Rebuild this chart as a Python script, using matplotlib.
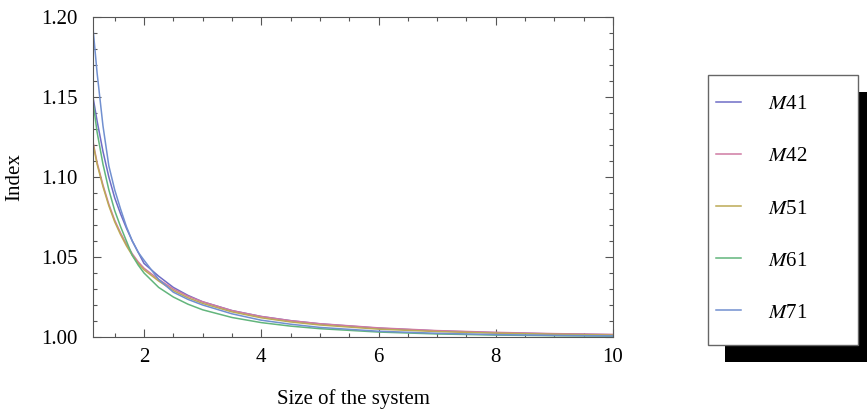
import numpy as np
import matplotlib as mpl
mpl.use("Agg")
import matplotlib.pyplot as plt
from matplotlib.patches import Rectangle
from matplotlib.ticker import MultipleLocator

# data
x = [1.13, 1.2, 1.3, 1.4, 1.5, 1.6, 1.7, 1.8, 1.9, 2.0, 2.25, 2.5, 2.75,
     3.0, 3.5, 4.0, 4.5, 5.0, 6.0, 7.0, 8.0, 9.0, 10.0]

m41 = [1.150, 1.135, 1.116, 1.100, 1.087, 1.077, 1.068, 1.060, 1.053, 1.046,
       1.038, 1.031, 1.026, 1.022, 1.0165, 1.0128, 1.0102, 1.0082, 1.0055,
       1.0038, 1.0027, 1.0019, 1.0014]
m42 = [1.122, 1.109, 1.095, 1.083, 1.073, 1.065, 1.058, 1.052, 1.047, 1.043,
       1.036, 1.030, 1.0255, 1.022, 1.0165, 1.0128, 1.0102, 1.0083, 1.0057,
       1.0040, 1.0029, 1.0021, 1.0016]
m51 = [1.121, 1.108, 1.094, 1.082, 1.072, 1.064, 1.057, 1.051, 1.046, 1.042,
       1.035, 1.029, 1.0245, 1.021, 1.0157, 1.0120, 1.0094, 1.0075, 1.0049,
       1.0034, 1.0024, 1.0017, 1.0012]
m61 = [1.147, 1.128, 1.108, 1.092, 1.079, 1.069, 1.060, 1.051, 1.045, 1.040,
       1.031, 1.025, 1.0205, 1.017, 1.0122, 1.0090, 1.0068, 1.0052, 1.0031,
       1.0019, 1.0012, 1.0008, 1.0005]
m71 = [1.193, 1.165, 1.132, 1.107, 1.092, 1.080, 1.069, 1.060, 1.053, 1.048,
       1.036, 1.028, 1.0235, 1.020, 1.0145, 1.0105, 1.0080, 1.0060, 1.0036,
       1.0023, 1.0015, 1.0010, 1.0007]

labels = ['$M$41', '$M$42', '$M$51', '$M$61', '$M$71']
colors = ['#6f6dc6', '#cf7aa3', '#bcaa55', '#62b57c', '#7190d0']

plt.rcParams['font.family'] = 'Liberation Serif'
plt.rcParams['mathtext.fontset'] = 'stix'
plt.rcParams['font.size'] = 15

fig = plt.figure(figsize=(8.67, 4.12), dpi=100)
ax = fig.add_axes([93/867, 1-337/412, 520/867, 320/412])

for ys, c, lab in zip([m41, m42, m51, m61, m71], colors, labels):
    ax.plot(x, ys, color=c, linewidth=1.1, label=lab)

ax.set_xlim(1.13, 10)
ax.set_ylim(1.0, 1.2)
ax.xaxis.set_major_locator(MultipleLocator(2))
ax.xaxis.set_minor_locator(MultipleLocator(0.5))
ax.yaxis.set_major_locator(MultipleLocator(0.05))
ax.yaxis.set_minor_locator(MultipleLocator(0.01))
ax.yaxis.set_major_formatter(mpl.ticker.FormatStrFormatter('%.2f'))
ax.tick_params(which='both', direction='in', top=True, right=True,
               color='#555555', width=0.8)
ax.tick_params(which='major', length=6)
ax.tick_params(which='minor', length=3)
ax.tick_params(axis='x', pad=8)
ax.tick_params(axis='y', pad=11)
for s in ax.spines.values():
    s.set_color('#555555')
    s.set_linewidth(0.8)

ax.set_xlabel('Size of the system', labelpad=16)
ax.set_ylabel('Index', labelpad=12)

# legend box with solid black shadow
W, H = 867, 412
fig.add_artist(Rectangle((725/W, 1-362/H), 150/W, 270/H,
                         transform=fig.transFigure, facecolor='black',
                         edgecolor='none', zorder=1))
fig.add_artist(Rectangle((708/W, 1-345/H), 150/W, 270/H,
                         transform=fig.transFigure, facecolor='white',
                         edgecolor='#666666', linewidth=1.0, zorder=2))
leg = fig.legend(loc='upper left', bbox_to_anchor=(697/W, 1-76/H),
                 frameon=False, handlelength=1.2, handletextpad=1.3,
                 labelspacing=1.56, fontsize=15)
leg.set_zorder(3)

plt.savefig('out.png', dpi=100)
